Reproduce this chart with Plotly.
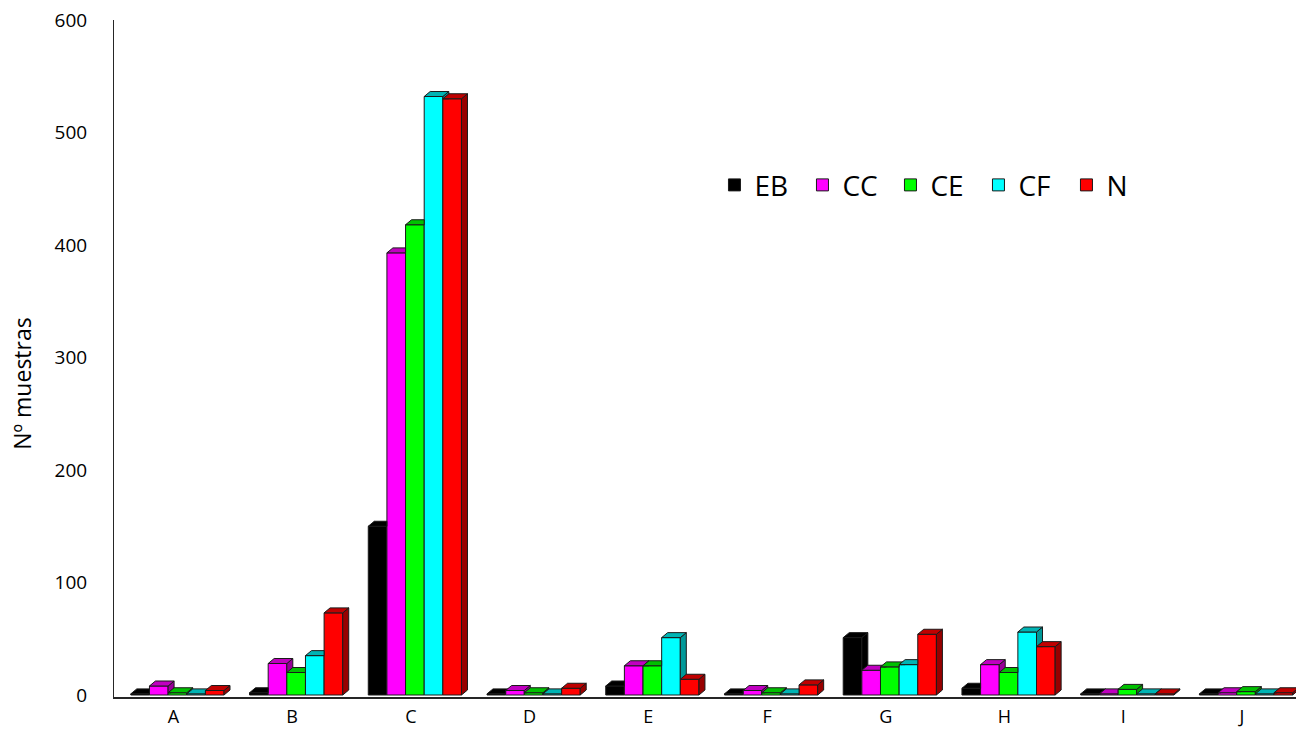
import plotly.graph_objects as go

# Sample counts per category and series
categories = ["A", "B", "C", "D", "E", "F", "G", "H", "I", "J"]
series_names = ["EB", "CC", "CE", "CF", "N"]
eb = [1, 2, 150, 1, 8, 1, 51, 6, 1, 1]
cc = [8, 28, 393, 4, 26, 4, 22, 27, 1, 2]
ce = [2, 20, 418, 2, 26, 2, 25, 20, 5, 3]
cf = [1, 35, 532, 1, 51, 1, 27, 56, 1, 1]
n = [4, 73, 530, 6, 14, 9, 54, 43, 1, 2]

series_values = [eb, cc, ce, cf, n]
front_colors = ["#000000", "#ff00ff", "#00ff00", "#00ffff", "#ff0000"]
top_colors = ["#000000", "#c000c0", "#00c000", "#00b4b4", "#c00000"]
side_colors = ["#000000", "#980098", "#009800", "#009898", "#980000"]
edge = "#1a1a1a"

# geometry of the pseudo-3D columns (in axis units)
bar_w = 0.157
group_shift = 0.034
depth_x = 0.0505
depth_y = 4.44


def clip_above(poly, c):
    """Keep the part of a polygon with y >= c (Sutherland-Hodgman)."""
    out = []
    m = len(poly)
    for i in range(m):
        p, q = poly[i], poly[(i + 1) % m]
        pin, qin = p[1] >= c, q[1] >= c
        if pin:
            out.append(p)
        if pin != qin:
            t = (c - p[1]) / (q[1] - p[1])
            out.append((p[0] + t * (q[0] - p[0]), c))
    return out


def top_face(x0, x1, v, c):
    """Top face of a column; the part right of x1 below c is hidden."""
    t = min(max((c - v) / depth_y, 0.0), 1.0)
    if t >= 1.0:
        return [(x0, v), (x1, v), (x1, v + depth_y), (x0 + depth_x, v + depth_y)]
    if t <= 0.0:
        return [(x0, v), (x1, v), (x1 + depth_x, v + depth_y),
                (x0 + depth_x, v + depth_y)]
    return [(x0, v), (x1, v), (x1, v + t * depth_y),
            (x1 + t * depth_x, v + t * depth_y),
            (x1 + depth_x, v + depth_y), (x0 + depth_x, v + depth_y)]


fig = go.Figure()

# front faces as bars
for k, name in enumerate(series_names):
    xs = [i + group_shift + (k - 2) * bar_w for i in range(len(categories))]
    fig.add_trace(go.Bar(
        x=xs, y=series_values[k], width=bar_w, name=name,
        marker=dict(color=front_colors[k], line=dict(color=edge, width=1)),
        hoverinfo="skip",
    ))

# top and right side faces, hidden where the next column covers them
for k, name in enumerate(series_names):
    tx, ty, sx, sy = [], [], [], []
    for i in range(len(categories)):
        v = series_values[k][i]
        x0 = i + group_shift + (k - 2.5) * bar_w
        x1 = x0 + bar_w
        nxt = series_values[k + 1][i] if k + 1 < len(series_names) else None
        c = nxt if nxt is not None else -1e9
        top = top_face(x0, x1, v, c)
        side = [(x1, 0), (x1 + depth_x, depth_y),
                (x1 + depth_x, v + depth_y), (x1, v)]
        if nxt is not None:
            side = clip_above(side, c)
        for px, py in top + [top[0]]:
            tx.append(px)
            ty.append(py)
        tx.append(None)
        ty.append(None)
        if len(side) >= 3:
            for px, py in side + [side[0]]:
                sx.append(px)
                sy.append(py)
            sx.append(None)
            sy.append(None)
    fig.add_trace(go.Scatter(
        x=sx, y=sy, mode="lines", fill="toself", fillcolor=side_colors[k],
        line=dict(color=edge, width=1), showlegend=False, hoverinfo="skip"))
    fig.add_trace(go.Scatter(
        x=tx, y=ty, mode="lines", fill="toself", fillcolor=top_colors[k],
        line=dict(color=edge, width=1), showlegend=False, hoverinfo="skip"))

fig.update_layout(
    width=1296, height=738,
    margin=dict(l=114, r=0, t=20, b=41),
    paper_bgcolor="white", plot_bgcolor="white",
    font=dict(family="Open Sans, sans-serif", color="#000000"),
    barmode="overlay",
    showlegend=True,
    legend=dict(
        orientation="h", x=0.508, y=0.756, xanchor="left", yanchor="middle",
        font=dict(size=28, color="#000000"), bgcolor="rgba(0,0,0,0)",
        entrywidth=43, entrywidthmode="pixels", traceorder="normal",
    ),
    xaxis=dict(
        range=[-0.5, 9.455], tickmode="array",
        tickvals=list(range(len(categories))), ticktext=categories,
        showline=True, linecolor="#262626", linewidth=2,
        showgrid=False, zeroline=False, ticks="",
        tickfont=dict(size=18, color="#000000"), ticklabelstandoff=2,
    ),
    yaxis=dict(
        range=[-1.78, 600], tickmode="array",
        tickvals=[0, 100, 200, 300, 400, 500, 600],
        showline=True, linecolor="#262626", linewidth=1,
        showgrid=False, zeroline=False, ticks="",
        tickfont=dict(size=19, color="#000000"), ticklabelstandoff=22,
    ),
    annotations=[dict(
        text="Nº muestras", textangle=-90, showarrow=False,
        xref="paper", yref="paper", x=-0.078, y=0.4638,
        xanchor="center", yanchor="middle",
        font=dict(size=23, color="#000000"),
    )],
)

fig.write_html("out.html")
